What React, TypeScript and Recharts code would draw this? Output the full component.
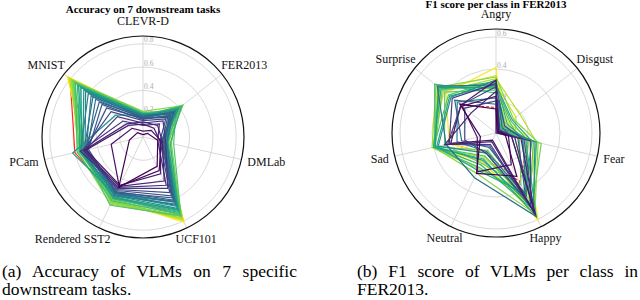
import React from 'react';
import { RadarChart, Radar, PolarGrid, PolarAngleAxis, PolarRadiusAxis } from 'recharts';

const SERIF = 'Liberation Serif, Tinos, DejaVu Serif, serif';

// (a) accuracy per downstream task
const TASKS = ['CLEVR-D', 'FER2013', 'DMLab', 'UCF101', 'Rendered SST2', 'PCam', 'MNIST'];
const ACC_TICKS = [0.2, 0.4, 0.6, 0.8];
const ACC_MAX = 0.867;
const ACC_BASELINE = [0.2, 0.31, 0.18, 0.74, 0.57, 0.6, 0.8];
const ACC_SERIES = [
  [0.2, 0.3, 0.17, 0.81, 0.6, 0.51, 0.83],
  [0.19, 0.33, 0.19, 0.8, 0.59, 0.53, 0.82],
  [0.21, 0.37, 0.18, 0.79, 0.61, 0.5, 0.81],
  [0.18, 0.41, 0.21, 0.78, 0.62, 0.55, 0.8],
  [0.2, 0.35, 0.23, 0.77, 0.63, 0.52, 0.79],
  [0.22, 0.43, 0.2, 0.76, 0.64, 0.57, 0.78],
  [0.19, 0.38, 0.25, 0.75, 0.62, 0.54, 0.77],
  [0.17, 0.44, 0.22, 0.74, 0.6, 0.56, 0.76],
  [0.21, 0.36, 0.27, 0.75, 0.65, 0.53, 0.75],
  [0.18, 0.4, 0.21, 0.73, 0.61, 0.58, 0.74],
  [0.2, 0.34, 0.19, 0.72, 0.59, 0.55, 0.72],
  [0.19, 0.42, 0.24, 0.71, 0.58, 0.52, 0.71],
  [0.17, 0.37, 0.2, 0.7, 0.57, 0.56, 0.69],
  [0.2, 0.32, 0.22, 0.69, 0.58, 0.54, 0.68],
  [0.19, 0.28, 0.21, 0.62, 0.55, 0.62, 0.3],
  [0.18, 0.39, 0.18, 0.68, 0.56, 0.53, 0.65],
  [0.16, 0.35, 0.2, 0.66, 0.55, 0.51, 0.63],
  [0.19, 0.31, 0.19, 0.65, 0.54, 0.55, 0.6],
  [0.17, 0.36, 0.17, 0.64, 0.56, 0.5, 0.57],
  [0.18, 0.33, 0.21, 0.62, 0.53, 0.52, 0.55],
  [0.16, 0.29, 0.18, 0.61, 0.54, 0.49, 0.52],
  [0.17, 0.34, 0.16, 0.6, 0.52, 0.51, 0.48],
  [0.15, 0.3, 0.19, 0.58, 0.53, 0.48, 0.45],
  [0.16, 0.27, 0.17, 0.56, 0.51, 0.5, 0.4],
  [0.14, 0.25, 0.15, 0.53, 0.5, 0.53, 0.35],
  [0.12, 0.22, 0.2, 0.49, 0.49, 0.51, 0.28],
  [0.1, 0.18, 0.13, 0.46, 0.48, 0.55, 0.22],
  [0.13, 0.16, 0.17, 0.42, 0.47, 0.52, 0.18],
  [0.11, 0.12, 0.15, 0.35, 0.46, 0.5, 0.16],
  [0.05, 0.09, 0.16, 0.32, 0.47, 0.28, 0.12],
  [0.02, 0.05, 0.13, 0.28, 0.48, 0.12, 0.06],
];
const ACC_COLORS = [
  '#fde725', '#e5e419', '#cde11d', '#b5de2b', '#9fda3a', '#8bd646', '#75d054', '#63cb5f',
  '#52c569', '#42be71', '#35b779', '#2ab07f', '#22a884', '#1fa187', '#1f9a8a', '#21918c',
  '#238a8d', '#25838e', '#287c8e', '#2c728e', '#2f6c8e', '#33638d', '#375b8d', '#3c4f8a',
  '#404688', '#453882', '#46307e', '#482576', '#481a6c', '#470e61', '#440154',
];

// (b) F1 per class in FER2013
const EMOTIONS = ['Angry', 'Disgust', 'Fear', 'Happy', 'Neutral', 'Sad', 'Surprise'];
const F1_TICKS = [0.2, 0.4, 0.6];
const F1_MAX = 0.65;
const F1_BASELINE = [0.16, 0.06, 0.21, 0.34, 0.14, 0.3, 0.28];
const F1_SERIES = [
  [0.41, 0.05, 0.18, 0.61, 0.14, 0.3, 0.4],
  [0.36, 0.1, 0.24, 0.57, 0.2, 0.39, 0.44],
  [0.3, 0.16, 0.12, 0.5, 0.22, 0.4, 0.47],
  [0.34, 0.19, 0.26, 0.46, 0.17, 0.4, 0.42],
  [0.28, 0.08, 0.21, 0.4, 0.25, 0.41, 0.48],
  [0.35, 0.14, 0.27, 0.56, 0.28, 0.4, 0.46],
  [0.31, 0.03, 0.29, 0.52, 0.12, 0.39, 0.43],
  [0.27, 0.11, 0.15, 0.36, 0.21, 0.33, 0.41],
  [0.33, 0.06, 0.24, 0.48, 0.16, 0.4, 0.38],
  [0.29, 0.12, 0.2, 0.44, 0.24, 0.4, 0.45],
  [0.25, 0.04, 0.26, 0.53, 0.22, 0.39, 0.49],
  [0.32, 0.09, 0.19, 0.58, 0.18, 0.4, 0.44],
  [0.3, 0.13, 0.23, 0.42, 0.26, 0.38, 0.37],
  [0.28, 0.07, 0.17, 0.5, 0.19, 0.39, 0.46],
  [0.33, 0.05, 0.25, 0.54, 0.14, 0.37, 0.36],
  [0.22, 0.03, 0.17, 0.44, 0.13, 0.25, 0.31],
  [0.3, 0.05, 0.1, 0.58, 0.31, 0.32, 0.47],
  [0.18, 0.02, 0.14, 0.42, 0.1, 0.22, 0.33],
  [0.29, 0.07, 0.18, 0.54, 0.09, 0.31, 0.28],
  [0.2, 0.01, 0.22, 0.5, 0.14, 0.2, 0.25],
  [0.31, 0.03, 0.12, 0.55, 0.08, 0.3, 0.35],
  [0.26, 0.0, 0.16, 0.56, 0.06, 0.33, 0.2],
  [0.33, 0.02, 0.1, 0.57, 0.05, 0.29, 0.28],
  [0.23, 0.02, 0.08, 0.22, 0.27, 0.12, 0.27],
  [0.15, 0.01, 0.06, 0.3, 0.28, 0.1, 0.29],
];
const F1_COLORS = [
  '#fde725', '#e5e419', '#cde11d', '#b5de2b', '#9fda3a', '#8bd646', '#75d054', '#63cb5f',
  '#52c569', '#42be71', '#35b779', '#2ab07f', '#22a884', '#1fa187', '#21918c', '#25838e',
  '#2c728e', '#33638d', '#3b528b', '#404688', '#453882', '#482576', '#481a6c', '#470e61',
  '#440154',
];

function toRows(cats: string[], series: number[][], baseline: number[]) {
  return cats.map((cat, i) => {
    const row: any = { cat, base: baseline[i] };
    series.forEach((s, j) => {
      row['m' + j] = s[i];
    });
    return row;
  });
}

// label placement roughly like plotly's angular ticks
function angleTick(n: number, cx: number, cy: number, R: number) {
  return (props: any) => {
    const { index, payload } = props;
    const th = (index * 2 * Math.PI) / n;
    const s = Math.sin(th);
    const c = Math.cos(th);
    const rr = R + 6;
    let x = cx + rr * s;
    let y = cy - rr * c;
    let anchor = 'middle';
    if (Math.abs(s) > 0.05) anchor = s > 0 ? 'start' : 'end';
    if (c < -0.7) x = cx + rr * s * 0.7;
    if (c > 0.3 && Math.abs(s) > 0.05) x = cx + (R - 1) * s;
    y += c > 0 ? -9 * c : -6 * c;
    return (
      <text x={x} y={y} textAnchor={anchor} dominantBaseline="central" fontSize={12} fontFamily={SERIF} fill="#111">
        {payload.value}
      </text>
    );
  };
}

function radiusTick(props: any) {
  const { x, y, payload } = props;
  if (!payload || !payload.value) return <g />;
  return (
    <text x={x + 1} y={y - 4} dominantBaseline="central" fontSize={7.5} fontFamily={SERIF} fill="#aaa" stroke="none">
      {String(payload.value)}
    </text>
  );
}

function Spider({ cats, series, colors, baseline, ticks, max, cx, cy, R, dashedBase }: any) {
  const data = toRows(cats, series, baseline);
  return (
    <RadarChart width={320} height={250} data={data} cx={cx} cy={cy} outerRadius={R} margin={{ top: 0, right: 0, bottom: 0, left: 0 }}>
      <PolarGrid gridType="circle" stroke="#cfcfcf" strokeWidth={0.8} polarRadius={ticks.map((t: number) => (t / max) * R)} />
      <PolarRadiusAxis
        angle={90}
        type="number"
        domain={[0, max]}
        allowDataOverflow
        tickCount={0}
        ticks={ticks}
        axisLine={false}
        tick={radiusTick}
      />
      <Radar
        dataKey="base"
        stroke="#ff2a1a"
        strokeWidth={1.2}
        strokeDasharray={dashedBase ? '3 2' : undefined}
        fill="none"
        fillOpacity={0}
        dot={false}
        isAnimationActive={false}
      />
      {series.map((_: number[], j: number) => (
        <Radar
          key={j}
          dataKey={'m' + j}
          stroke={colors[j]}
          strokeWidth={1.2}
          fill="none"
          fillOpacity={0}
          dot={false}
          isAnimationActive={false}
        />
      ))}
      <PolarAngleAxis
        dataKey="cat"
        axisLineType="circle"
        axisLine={{ stroke: '#111', strokeWidth: 1.2 }}
        tickLine={false}
        tick={angleTick(cats.length, cx, cy, R)}
      />
    </RadarChart>
  );
}

const titleStyle: React.CSSProperties = {
  position: 'absolute',
  width: 300,
  textAlign: 'center',
  fontFamily: SERIF,
  fontWeight: 'bold',
  fontSize: 11,
  lineHeight: '11px',
  whiteSpace: 'nowrap',
};

const captionStyle: React.CSSProperties = {
  position: 'absolute',
  top: 262,
  fontFamily: SERIF,
  fontSize: 17.5,
  lineHeight: '18px',
  textAlign: 'justify',
  textAlignLast: 'left',
  color: '#000',
};

export default function App() {
  return (
    <div style={{ position: 'absolute', left: 0, top: 0, width: 640, height: 300, background: '#fff', overflow: 'hidden' }}>
      <div style={{ position: 'absolute', left: 0, top: 0 }}>
        <Spider cats={TASKS} series={ACC_SERIES} colors={ACC_COLORS} baseline={ACC_BASELINE} ticks={ACC_TICKS} max={ACC_MAX} cx={143} cy={137} R={101} />
      </div>
      <div style={{ position: 'absolute', left: 320, top: 0 }}>
        <Spider cats={EMOTIONS} series={F1_SERIES} colors={F1_COLORS} baseline={F1_BASELINE} ticks={F1_TICKS} max={F1_MAX} cx={176} cy={133} R={104} dashedBase />
      </div>
      <div style={{ ...titleStyle, left: 143 - 150, top: 4 }}>Accuracy on 7 downstream tasks</div>
      <div style={{ ...titleStyle, left: 496 - 150, top: -1 }}>F1 score per class in FER2013</div>
      <div style={{ ...captionStyle, left: 2, width: 295 }}>(a) Accuracy of VLMs on 7 specific downstream tasks.</div>
      <div style={{ ...captionStyle, left: 357, width: 281 }}>(b) F1 score of VLMs per class in FER2013.</div>
    </div>
  );
}
